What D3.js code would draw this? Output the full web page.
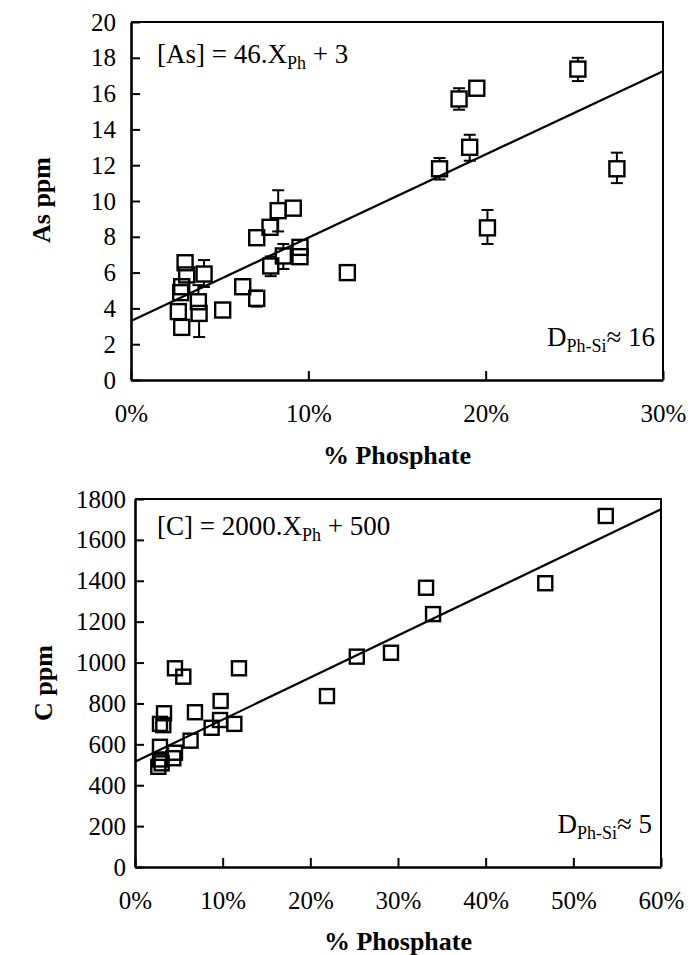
<!DOCTYPE html>
<html><head><meta charset="utf-8">
<script src="https://cdn.jsdelivr.net/npm/d3@7"></script>
<style>
body{margin:0;background:#fff}
</style>
</head><body>
<svg id="c" width="699" height="955"></svg>
<script>
// ---------- Data: As panel ----------
const asX  = [25.2, 18.5, 19.5, 19.1, 17.4, 27.4, 20.1, 12.2, 9.15, 8.3, 7.84, 7.09, 9.53, 9.53, 8.59, 7.88, 6.3, 7.09, 3.05, 3.14, 4.12, 2.86, 2.8, 3.8, 5.17, 3.84, 2.67, 2.86];
const asY  = [17.37, 15.7, 16.3, 13.0, 11.8, 11.8, 8.5, 6.0, 9.6, 9.46, 8.53, 7.95, 7.41, 6.89, 6.93, 6.37, 5.21, 4.56, 6.55, 5.87, 5.92, 5.21, 4.88, 4.37, 3.91, 3.72, 3.82, 2.94];
const asLo = [16.7, 15.1, null, 12.25, 11.2, 11.0, 7.6, null, null, 8.3, null, null, null, null, 6.2, 5.8, null, 4.1, null, null, 5.2, null, null, null, null, 2.4, null, null];
const asHi = [18.0, 16.3, null, 13.7, 12.4, 12.7, 9.5, null, null, 10.6, null, null, null, null, 7.6, 6.9, null, 5.0, null, null, 6.7, null, null, 5.3, null, null, null, null];
const asFitX = [0, 30];
const asFitY = [3.3, 17.25];
const asYTicks = [0, 2, 4, 6, 8, 10, 12, 14, 16, 18, 20];
const asXTicks = [0, 10, 20, 30];

// ---------- Data: C panel ----------
const cX = [53.7, 46.8, 33.2, 34.0, 29.2, 25.3, 21.9, 11.86, 11.33, 9.77, 9.7, 8.74, 6.84, 6.34, 5.51, 4.56, 4.56, 4.37, 3.31, 3.23, 2.85, 2.85, 2.85, 3.04, 2.66];
const cY = [1717, 1388, 1366, 1237, 1048, 1029, 836, 972, 700, 812, 719, 681, 757, 618, 931, 972, 559, 532, 752, 694, 700, 588, 526, 507, 490];
const cFitX = [0, 60];
const cFitY = [515, 1750];
const cYTicks = [0, 200, 400, 600, 800, 1000, 1200, 1400, 1600, 1800];
const cXTicks = [0, 10, 20, 30, 40, 50, 60];

const FONT = '"Liberation Serif","Times New Roman",Times,serif';
const svg = d3.select("#c");

function panel(o) {
  const x = d3.scaleLinear().domain(o.xDom).range([o.left, o.right]);
  const y = d3.scaleLinear().domain(o.yDom).range([o.bottom, o.top]);
  const g = svg.append("g");

  g.append("path")
    .attr("d", `M${o.left},${o.top}H${o.right}V${o.bottom}`)
    .attr("fill", "none").attr("stroke", "#000").attr("stroke-width", 2);

  const ya = g.append("g").attr("transform", `translate(${o.left},0)`)
    .call(d3.axisLeft(y).tickValues(o.yTicks).tickFormat(d3.format("d")).tickSizeInner(-9).tickSizeOuter(0).tickPadding(o.yPad));
  const xa = g.append("g").attr("transform", `translate(0,${o.bottom})`)
    .call(d3.axisBottom(x).tickValues(o.xTicks).tickFormat(d => d + "%").tickSizeInner(-9).tickSizeOuter(0).tickPadding(o.xPad));
  [ya, xa].forEach(a => {
    a.attr("font-family", null).attr("font-size", null);
    a.select(".domain").attr("stroke-width", 2.6);
    a.selectAll(".tick line").attr("stroke-width", 2);
    a.selectAll("text").style("font-family", FONT).style("font-size", o.tickFont + "px").attr("fill", "#000");
  });

  g.append("line")
    .attr("x1", x(o.fitX[0])).attr("y1", y(o.fitY[0]))
    .attr("x2", x(o.fitX[1])).attr("y2", y(o.fitY[1]))
    .attr("stroke", "#000").attr("stroke-width", 2.2);

  const s = o.mk;
  if (o.lo) {
    o.xs.forEach((xv, i) => {
      const cx = x(xv), cy = y(o.ys[i]);
      if (o.hi[i] != null) {
        const yh = y(o.hi[i]);
        g.append("line").attr("x1", cx).attr("x2", cx).attr("y1", yh).attr("y2", cy - s / 2)
          .attr("stroke", "#000").attr("stroke-width", 2);
        g.append("line").attr("x1", cx - 6).attr("x2", cx + 6).attr("y1", yh).attr("y2", yh)
          .attr("stroke", "#000").attr("stroke-width", 2);
      }
      if (o.lo[i] != null) {
        const yl = y(o.lo[i]);
        g.append("line").attr("x1", cx).attr("x2", cx).attr("y1", cy + s / 2).attr("y2", yl)
          .attr("stroke", "#000").attr("stroke-width", 2);
        g.append("line").attr("x1", cx - 6).attr("x2", cx + 6).attr("y1", yl).attr("y2", yl)
          .attr("stroke", "#000").attr("stroke-width", 2);
      }
    });
  }
  g.selectAll("rect.m").data(o.xs.map((v, i) => [v, o.ys[i]])).join("rect")
    .attr("class", "m")
    .attr("x", d => x(d[0]) - s / 2).attr("y", d => y(d[1]) - s / 2)
    .attr("width", s).attr("height", s)
    .attr("fill", "none").attr("stroke", "#000").attr("stroke-width", 2.4);

  g.append("text").attr("x", o.xTitle[0]).attr("y", o.xTitle[1])
    .attr("text-anchor", "middle").style("font-family", FONT).style("font-weight", "bold").style("font-size", o.titleFont + "px")
    .text("% Phosphate");
  g.append("text").attr("transform", `translate(${o.yTitle[0]},${o.yTitle[1]}) rotate(-90)`)
    .attr("text-anchor", "middle").style("font-family", FONT).style("font-weight", "bold").style("font-size", o.titleFont + "px")
    .text(o.yLabel);

  const eq = g.append("text").attr("x", o.eqPos[0]).attr("y", o.eqPos[1])
    .style("font-family", FONT).style("font-size", o.annFont + "px");
  eq.append("tspan").text(o.eqA);
  eq.append("tspan").style("font-size", o.subFont + "px").attr("dy", 6).text("Ph");
  eq.append("tspan").attr("dy", -6).text(o.eqB);

  const dt = g.append("text").attr("x", o.dPos[0]).attr("y", o.dPos[1])
    .style("font-family", FONT).style("font-size", o.annFont + "px").attr("text-anchor", "end");
  dt.append("tspan").text("D");
  dt.append("tspan").style("font-size", o.subFont + "px").attr("dy", 6).text("Ph-Si");
  dt.append("tspan").attr("dy", -6).text("\u2248 " + o.dVal);
}

panel({
  xDom: [0, 30], yDom: [0, 20], left: 131, right: 663, top: 22, bottom: 380,
  yTicks: asYTicks, xTicks: asXTicks, yPad: 15, xPad: 24,
  xs: asX, ys: asY, lo: asLo, hi: asHi, fitX: asFitX, fitY: asFitY,
  mk: 15, tickFont: 25, titleFont: 26, annFont: 27, subFont: 18,
  xTitle: [397, 464], yTitle: [50, 200], yLabel: "As ppm",
  eqPos: [157, 63], eqA: "[As] = 46.X", eqB: " + 3",
  dPos: [655, 346], dVal: "16"
});

panel({
  xDom: [0, 60], yDom: [0, 1800], left: 135, right: 661, top: 499, bottom: 867,
  yTicks: cYTicks, xTicks: cXTicks, yPad: 9, xPad: 24,
  xs: cX, ys: cY, lo: null, hi: null, fitX: cFitX, fitY: cFitY,
  mk: 14, tickFont: 25, titleFont: 26, annFont: 27, subFont: 18,
  xTitle: [398, 950], yTitle: [52, 683], yLabel: "C ppm",
  eqPos: [157, 535], eqA: "[C] = 2000.X", eqB: " + 500",
  dPos: [652, 833], dVal: "5"
});
</script>
</body></html>
